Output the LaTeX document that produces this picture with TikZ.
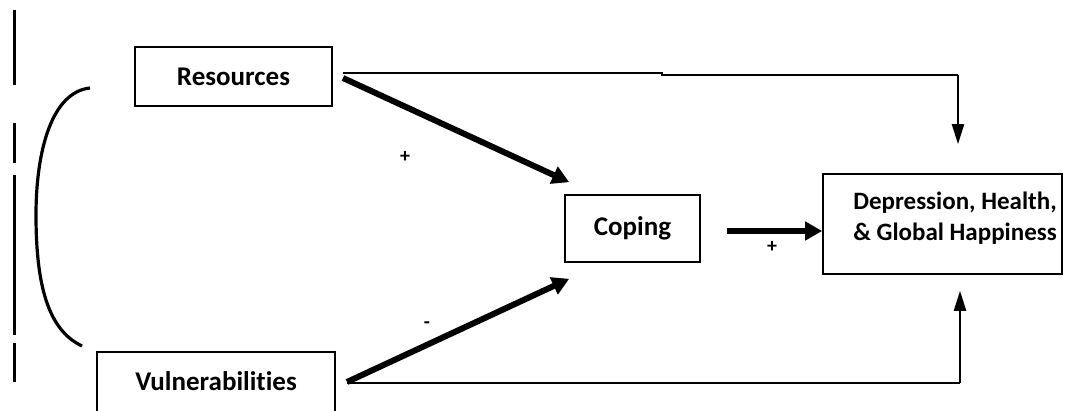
\documentclass[tikz,border=0pt]{standalone}
\usepackage{fontspec}
\setmainfont[Ligatures=NoCommon]{Carlito}
\usetikzlibrary{arrows.meta,calc}
\begin{document}
\begin{tikzpicture}[x=1pt,y=-1pt,
  box/.style={draw,line width=1.6pt,inner sep=0pt},
  boxtext/.style={font=\bfseries\fontsize{27}{30}\selectfont,align=center},
  outtext/.style={font=\bfseries\fontsize{25}{31}\selectfont,align=center},
  thinline/.style={line width=2pt},
  thinarrow/.style={line width=2.2pt,-{Triangle[length=20pt,width=12pt]}},
  thickarrow/.style={line width=6pt,-{Triangle[length=17pt,width=18pt]}},
  sign/.style={font=\bfseries\fontsize{20}{20}\selectfont}]
\useasboundingbox (0,0) rectangle (1076,411);

% boxes
\node[box,boxtext,minimum width=197pt,minimum height=59pt] (res) at (233.5,76.5) {Resources};
\node[box,minimum width=238pt,minimum height=66pt] (vul) at (216,385) {};
\node[boxtext] (vult) at (216,381) {Vulnerabilities};
\node[box,boxtext,minimum width=135pt,minimum height=67pt] (cop) at (632.5,228.5) {Coping};
\node[box,minimum width=239pt,minimum height=100pt] (dhg) at (942.5,224) {};
\node[outtext] (dhgt) at (955,218) {Depression, Health,\\\& Global Happiness};

% covariance bracket and dashed divider
\coordinate (brtop) at (90,88);
\coordinate (brbot) at (82,346);
\draw[line width=3.2pt] (brtop) .. controls (52,92) and (36,150) .. (36,215)
  .. controls (36,285) and (48,330) .. (brbot);
\coordinate (dtop) at (14,10);
\coordinate (dbot) at (14,382);
\draw[line width=3pt,dash pattern=on 75pt off 38pt on 40pt off 12pt on 160pt off 8pt on 40pt off 20pt]
  (dtop) -- (dbot);

% direct paths to the outcome
\coordinate (rs) at (343,73);
\coordinate (rk) at (662,73);
\coordinate (rc) at (958,75.5);
\draw[thinline] (rs) -- (rk) -- ++(0,2.5) -- (rc);
\draw[thinarrow] (rc) -- ($(dhg.north)+(15.5,-29)$);
\coordinate (vs) at (347,383);
\coordinate (vc) at (960,383);
\draw[thinline] (vs) -- (vc);
\draw[thinarrow] (vc) -- ($(dhg.south)+(17.5,16)$);

% paths through coping
\coordinate (rarr) at (343,78);
\draw[thickarrow] (rarr) -- ($(cop.north west)+(5,-12)$);
\coordinate (varr) at (347,382);
\draw[thickarrow] (varr) -- ($(cop.south west)+(5,16)$);
\coordinate (carr) at (727,231);
\draw[thickarrow] (carr) -- (dhg.west |- carr);

% signs
\node[sign] (s1) at (405,157) {+};
\node[sign] (s2) at (427,325) {-};
\node[sign] (s3) at (772,247) {+};
\end{tikzpicture}
\end{document}
